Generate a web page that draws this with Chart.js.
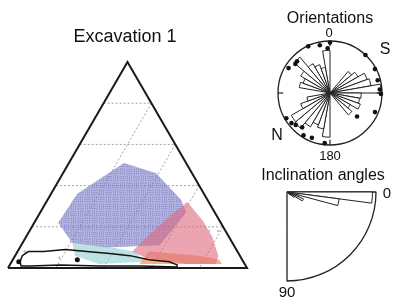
<!DOCTYPE html>
<html>
<head>
<meta charset="utf-8">
<script src="https://cdn.jsdelivr.net/npm/chart.js@4.4.0/dist/chart.umd.min.js"></script>
<style>
  body { margin: 0; background: #fff; font-family: "Liberation Sans", Arial, sans-serif; }
  #wrap { position: relative; width: 406px; height: 302px; overflow: hidden; }
  canvas { position: absolute; }
  .lbl { position: absolute; transform: translate(-50%, -50%); white-space: nowrap; line-height: 1; color: #111; }
</style>
</head>
<body>
<div id="wrap">
  <canvas id="ternary" width="260" height="302" style="left:0;top:0"></canvas>
  <canvas id="incl" width="186" height="186" style="left:194px;top:99px"></canvas>
  <canvas id="rose" width="120" height="120" style="left:270px;top:33px"></canvas>
  <canvas id="roseDots" width="120" height="120" style="left:270px;top:33px"></canvas>
  <div class="lbl" style="left:125px;top:36px;font-size:18px">Excavation 1</div>
  <div class="lbl" style="left:330px;top:18px;font-size:16px">Orientations</div>
  <div class="lbl" style="left:329px;top:32px;font-size:13px">0</div>
  <div class="lbl" style="left:385px;top:49px;font-size:16px">S</div>
  <div class="lbl" style="left:277px;top:135px;font-size:16px">N</div>
  <div class="lbl" style="left:330px;top:155px;font-size:13px">180</div>
  <div class="lbl" style="left:323px;top:175px;font-size:16px">Inclination angles</div>
  <div class="lbl" style="left:387px;top:192px;font-size:15px">0</div>
  <div class="lbl" style="left:287px;top:291px;font-size:15px">90</div>
</div>
<script>
// Ternary compositions in %: top = upper corner, right = lower right corner (left is the rest)
let gridLevels = [20, 40, 60, 80];

let blueTop   = [51, 46, 33, 27, 11, 10, 12, 22, 36];
let blueRight = [23, 39, 56, 61, 58, 36, 21, 10, 11];

let pinkTop   = [32, 23, 15, 6, 2, 2, 5, 8, 16, 25];
let pinkRight = [59, 70, 78, 85, 86, 74, 55, 48, 51, 55];

let orangeTop   = [8, 6, 4, 2, 2];
let orangeRight = [55, 77, 86.5, 88.5, 54];

let tealTop   = [12, 10, 8, 3, 2, 6];
let tealRight = [21, 38, 49, 56, 37, 25];

let outlineTop   = [3, 6, 8, 8, 9, 8, 7, 6, 4, 3, 1.5, 0.5, 1, 1, 1.5, 1, 1, 3];
let outlineRight = [3.5, 3, 4.5, 11, 19.5, 29, 39, 48, 57, 66, 70, 70.5, 55, 38, 21, 9, 5, 3.5];

let sampleTop   = [4, 3];
let sampleRight = [27, 3];

let grayTop   = [13, 8, 5, 18, 18, 7];
let grayRight = [20, 3, 19, 75, 79, 44];

// Orientation rose: 10 degree bins clockwise from 0 (top)
let roseBins = [];
for (let a = 0; a < 360; a += 10) roseBins.push(a + '-' + (a + 10));
let roseCounts = [0, 0, 0, 0, 5.4, 6.2, 7.6, 8.0, 9.8, 6.0, 5.8, 6.2, 4.5, 5.5, 0, 0, 0, 0,
                  8.5, 7.0, 6.5, 7.5, 8.8, 8.6, 6.0, 4.5, 0, 0, 6.0, 5.5, 6.5, 9.0, 6.5, 5.8, 5.0, 8.2];
// single observations around the rim (angle in degrees, radius as fraction of circle)
let dotAngle  = [0, 348, 335, 357, 314, 310, 301, 43, 62, 75, 86, 91, 131, 113, 240, 232, 227, 219, 212, 202, 186];
let dotRadius = [0.97, 0.94, 0.99, 0.86, 0.88, 0.87, 0.93, 1.0, 0.98, 0.95, 0.96, 0.98, 0.69, 0.94, 0.97, 0.94, 0.9, 0.85, 0.96, 0.93, 0.97];
let rimTicks = [0, 90, 180, 270];

// Inclination: 7.5 degree bins from 0 (horizontal) to 90
let inclBins = ['0-7.5', '7.5-15', '15-22.5', '22.5-30', '30-37.5', '37.5-45',
                '45-52.5', '52.5-60', '60-67.5', '67.5-75', '75-82.5', '82.5-90'];
let inclCounts = [9.6, 5.9, 1.4, 2.0, 1.0, 0.5, 0, 0, 0, 0, 0, 0];

function toXY(top, right) {
  return top.map(function(t, i) { return { x: (right[i] + t / 2) / 100, y: t / 100 }; });
}
function closed(pts) { return pts.concat([pts[0]]); }

function polygon(top, right, color) {
  return {
    data: closed(toXY(top, right)),
    showLine: true, fill: 'shape', backgroundColor: color,
    borderWidth: 0, pointRadius: 0, clip: false
  };
}

// basket weave texture for the blue field
function weave() {
  let c = document.createElement('canvas');
  c.width = 14; c.height = 14;
  let g = c.getContext('2d');
  g.fillStyle = 'rgba(140,140,210,0.66)';
  g.fillRect(0, 0, 14, 14);
  g.strokeStyle = 'rgba(95,95,165,0.35)';
  g.lineWidth = 0.8;
  g.beginPath();
  for (let k = 1; k < 7; k += 2) {
    g.moveTo(0, k + 0.5); g.lineTo(7, k + 0.5);
    g.moveTo(7 + k + 0.5, 0); g.lineTo(7 + k + 0.5, 7);
    g.moveTo(k + 0.5, 7); g.lineTo(k + 0.5, 14);
    g.moveTo(7, 7 + k + 0.5); g.lineTo(14, 7 + k + 0.5);
  }
  g.stroke();
  return g.createPattern(c, 'repeat');
}

let ternaryDatasets = [];
// triangle frame
ternaryDatasets.push({
  data: closed(toXY([0, 0, 100], [0, 100, 0])),
  showLine: true, borderColor: '#1a1a1a', borderWidth: 2, pointRadius: 0, clip: false
});
ternaryDatasets.push({
  data: toXY(sampleTop, sampleRight), pointRadius: 2.5, backgroundColor: '#111', borderWidth: 0
});
ternaryDatasets.push({
  data: closed(toXY(outlineTop, outlineRight)),
  showLine: true, borderColor: '#111', borderWidth: 1.5, pointRadius: 0, clip: false
});
ternaryDatasets.push({
  data: toXY(grayTop, grayRight), pointRadius: 1.2, backgroundColor: '#bbb', borderWidth: 0
});
ternaryDatasets.push(polygon(pinkTop, pinkRight, 'rgba(222,105,125,0.6)'));
ternaryDatasets.push(polygon(orangeTop, orangeRight, 'rgba(245,155,95,0.75)'));
ternaryDatasets.push(polygon(tealTop, tealRight, 'rgba(150,212,212,0.65)'));
ternaryDatasets.push(polygon(blueTop, blueRight, weave()));
// dotted grid: lines of constant top and constant right
gridLevels.forEach(function(g) {
  ternaryDatasets.push({
    data: toXY([g, g], [0, 100 - g]),
    showLine: true, borderColor: '#a0a0a0', borderWidth: 1, borderDash: [2, 2], pointRadius: 0
  });
  ternaryDatasets.push({
    data: toXY([100 - g, 0], [g, g]),
    showLine: true, borderColor: '#a0a0a0', borderWidth: 1, borderDash: [2, 2], pointRadius: 0
  });
});

new Chart(document.getElementById('ternary'), {
  type: 'scatter',
  data: { datasets: ternaryDatasets },
  options: {
    responsive: false, animation: false,
    layout: { padding: { left: 8, right: 13, top: 62, bottom: 34 } },
    scales: {
      x: { display: false, min: 0, max: 1 },
      y: { display: false, min: 0, max: 1 }
    },
    plugins: { legend: { display: false }, tooltip: { enabled: false } }
  }
});

new Chart(document.getElementById('rose'), {
  type: 'polarArea',
  data: {
    labels: roseBins,
    datasets: [{ data: roseCounts, backgroundColor: '#fff', borderColor: '#222', borderWidth: 1 }]
  },
  options: {
    responsive: false, animation: false,
    layout: { padding: 8 },
    scales: {
      r: {
        min: 0, max: 10, startAngle: 0,
        ticks: { display: false, stepSize: 10 },
        grid: { color: '#222', lineWidth: 1.3 },
        angleLines: { display: false },
        pointLabels: { display: false }
      }
    },
    plugins: { legend: { display: false }, tooltip: { enabled: false } }
  }
});

let dotPts = dotAngle.map(function(a, i) {
  let rad = a * Math.PI / 180;
  return { x: dotRadius[i] * Math.sin(rad), y: dotRadius[i] * Math.cos(rad) };
});
let roseDatasets = [{ data: dotPts, pointRadius: 2.3, backgroundColor: '#111', borderWidth: 0, clip: false }];
rimTicks.forEach(function(a) {
  let rad = a * Math.PI / 180;
  roseDatasets.push({
    data: [{ x: 0.9 * Math.sin(rad), y: 0.9 * Math.cos(rad) }, { x: Math.sin(rad), y: Math.cos(rad) }],
    showLine: true, borderColor: '#222', borderWidth: 1.2, pointRadius: 0, clip: false
  });
});

new Chart(document.getElementById('roseDots'), {
  type: 'scatter',
  data: { datasets: roseDatasets },
  options: {
    responsive: false, animation: false,
    layout: { padding: 8 },
    scales: {
      x: { display: false, min: -1, max: 1 },
      y: { display: false, min: -1, max: 1 }
    },
    plugins: { legend: { display: false }, tooltip: { enabled: false } }
  }
});

new Chart(document.getElementById('incl'), {
  type: 'polarArea',
  data: {
    labels: inclBins,
    datasets: [
      { data: inclCounts, angle: 7.5, backgroundColor: '#fff', borderColor: '#222', borderWidth: 1 },
      { data: [10], angle: 90, backgroundColor: 'rgba(0,0,0,0)', borderColor: '#222', borderWidth: 1.3 }
    ]
  },
  options: {
    responsive: false, animation: false,
    layout: { padding: 4 },
    scales: {
      r: {
        min: 0, max: 10, startAngle: 90,
        ticks: { display: false },
        grid: { display: false },
        angleLines: { display: false },
        pointLabels: { display: false }
      }
    },
    plugins: { legend: { display: false }, tooltip: { enabled: false } }
  }
});
</script>
</body>
</html>
